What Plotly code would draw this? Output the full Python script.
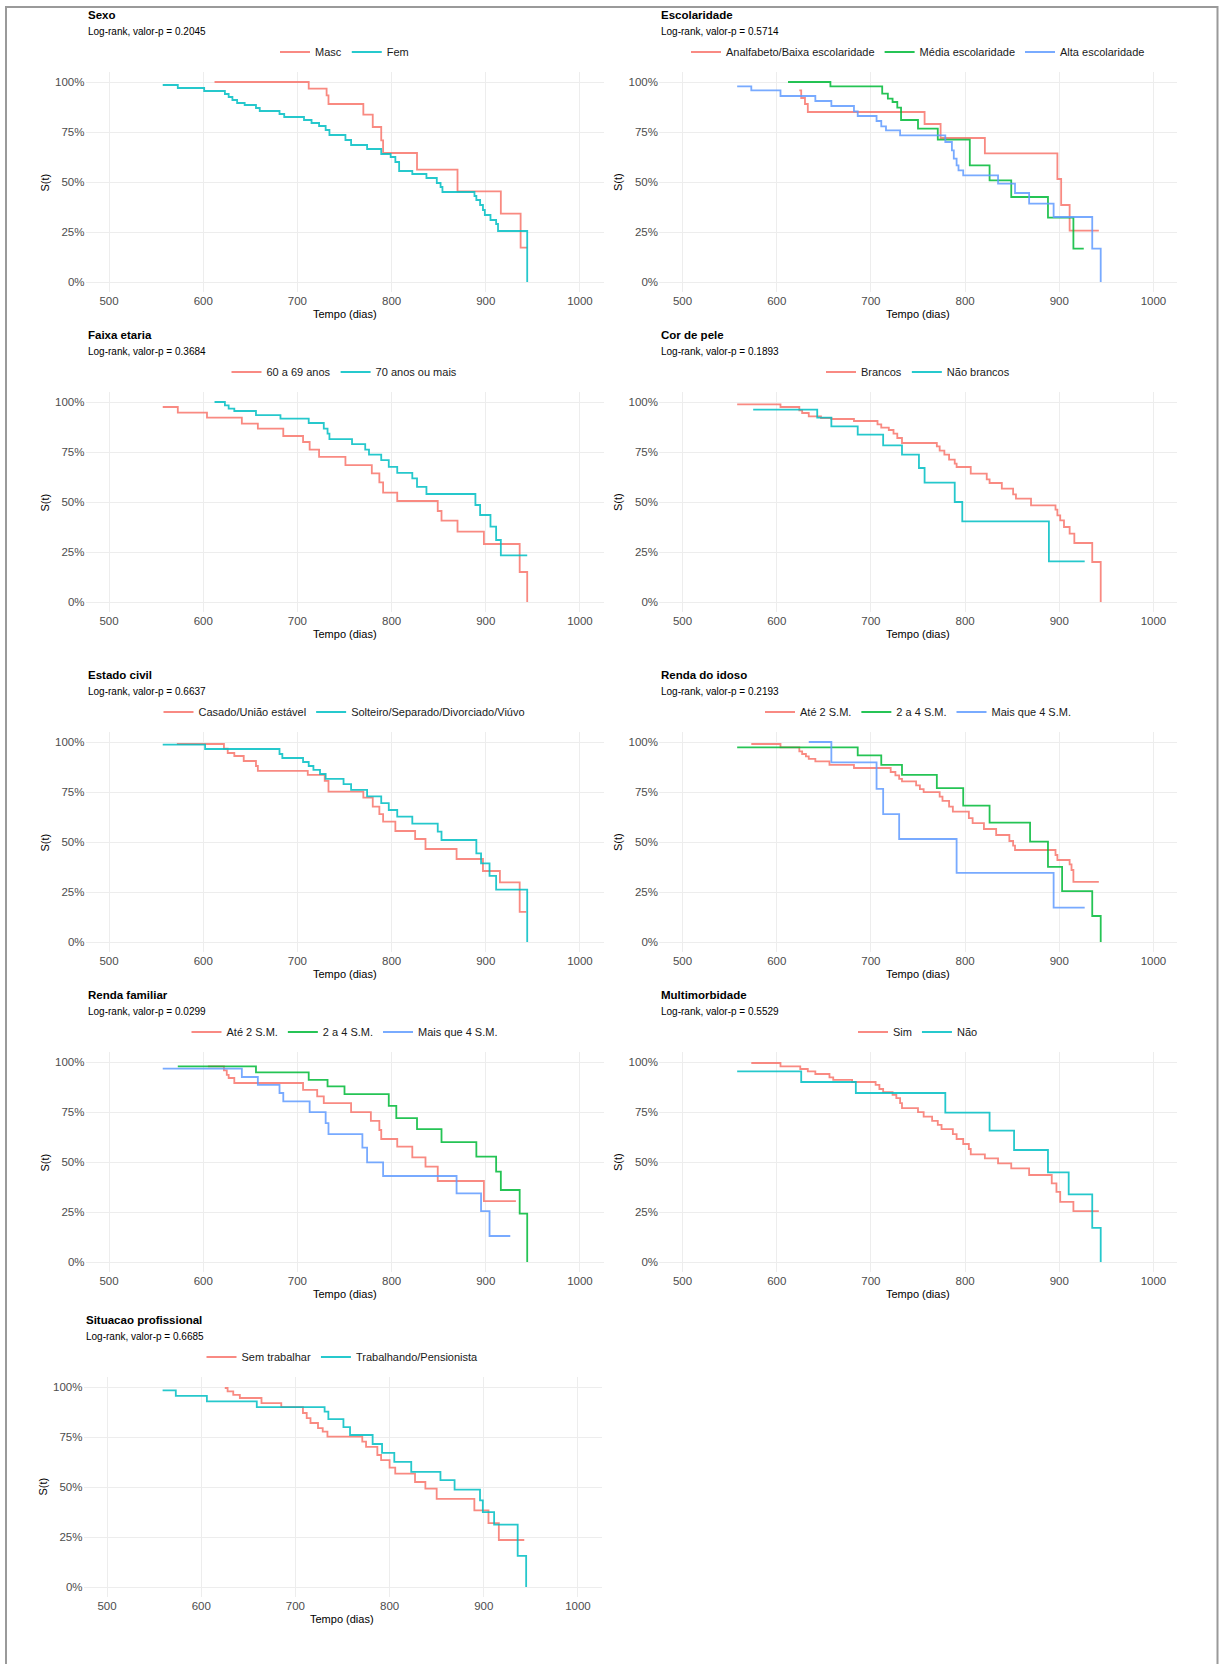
import plotly.graph_objects as go

W, H = 1219, 1664

# ---------------- data (Kaplan-Meier step curves: time in days, survival) ----------------
x_ticks = [500, 600, 700, 800, 900, 1000]
y_ticks = [0, 0.25, 0.5, 0.75, 1.0]
y_tick_labels = ["0%", "25%", "50%", "75%", "100%"]

# Sexo
masc_t = [612, 712, 731, 733, 770, 780, 789, 791, 827, 870, 916, 937, 944]
masc_s = [1.0, 0.967, 0.933, 0.89, 0.837, 0.775, 0.708, 0.645, 0.562, 0.453, 0.342, 0.172, 0.172]
fem_t = [557, 573, 601, 623, 627, 631, 636, 644, 656, 660, 681, 686, 707, 715, 723, 730, 734, 751, 757,
         774, 789, 799, 804, 808, 822, 837, 848, 852, 854, 888, 890, 894, 897, 899, 905, 911, 913, 944]
fem_s = [0.985, 0.97, 0.955, 0.94, 0.925, 0.91, 0.895, 0.885, 0.87, 0.855, 0.84, 0.825, 0.81, 0.795, 0.78,
         0.76, 0.735, 0.71, 0.685, 0.665, 0.64, 0.625, 0.60, 0.555, 0.54, 0.52, 0.495, 0.475, 0.45, 0.43,
         0.41, 0.385, 0.36, 0.335, 0.31, 0.29, 0.255, 0.0]

# Escolaridade
esc_baixa_t = [624, 626, 630, 633, 757, 774, 821, 898, 902, 911, 942]
esc_baixa_s = [0.958, 0.92, 0.89, 0.85, 0.79, 0.72, 0.643, 0.515, 0.385, 0.257, 0.257]
esc_media_t = [612, 657, 712, 718, 723, 728, 732, 750, 771, 805, 826, 849, 888, 915, 926]
esc_media_s = [1.0, 0.978, 0.942, 0.917, 0.9, 0.872, 0.81, 0.767, 0.712, 0.583, 0.508, 0.425, 0.322, 0.167, 0.167]
esc_alta_t = [558, 573, 604, 641, 658, 682, 686, 706, 711, 716, 731, 779, 786, 788, 791, 793, 798, 835, 853,
              868, 894, 935, 944]
esc_alta_s = [0.978, 0.958, 0.93, 0.905, 0.88, 0.853, 0.83, 0.805, 0.778, 0.758, 0.733, 0.7, 0.658, 0.617,
              0.583, 0.558, 0.533, 0.492, 0.445, 0.392, 0.325, 0.167, 0.0]

# Faixa etaria
fx60_t = [557, 573, 604, 641, 658, 685, 706, 713, 723, 751, 779, 787, 791, 806, 849, 853, 870, 898, 936, 944]
fx60_s = [0.975, 0.947, 0.922, 0.892, 0.867, 0.83, 0.8, 0.762, 0.726, 0.684, 0.643, 0.598, 0.547, 0.505,
          0.455, 0.407, 0.352, 0.29, 0.15, 0.0]
fx70_t = [612, 623, 627, 633, 656, 682, 712, 728, 732, 734, 758, 772, 776, 789, 797, 806, 822, 827, 837, 889,
          894, 905, 911, 916, 944]
fx70_s = [1.0, 0.983, 0.967, 0.955, 0.934, 0.917, 0.895, 0.867, 0.842, 0.814, 0.789, 0.762, 0.737, 0.709,
          0.676, 0.646, 0.618, 0.576, 0.54, 0.485, 0.435, 0.377, 0.31, 0.233, 0.233]

# Cor de pele
cor_br_t = [558, 604, 624, 627, 634, 647, 658, 682, 707, 711, 719, 724, 728, 733, 770, 773, 778, 783, 789, 791,
            806, 823, 826, 839, 851, 854, 870, 896, 898, 901, 905, 911, 916, 935, 944]
cor_br_s = [0.988, 0.975, 0.958, 0.945, 0.928, 0.92, 0.915, 0.905, 0.888, 0.872, 0.86, 0.842, 0.82, 0.795,
            0.778, 0.757, 0.737, 0.712, 0.692, 0.675, 0.642, 0.613, 0.595, 0.567, 0.538, 0.517, 0.483, 0.462,
            0.433, 0.408, 0.375, 0.342, 0.295, 0.2, 0.0]
cor_nb_t = [575, 643, 658, 686, 713, 733, 751, 757, 789, 797, 889, 927]
cor_nb_s = [0.962, 0.922, 0.878, 0.837, 0.783, 0.737, 0.67, 0.597, 0.5, 0.403, 0.203, 0.203]

# Estado civil
ec_cas_t = [572, 622, 626, 633, 643, 656, 658, 711, 729, 733, 770, 780, 787, 791, 804, 825, 836, 869, 897,
            915, 936, 943]
ec_cas_s = [0.99, 0.967, 0.945, 0.93, 0.905, 0.88, 0.856, 0.836, 0.806, 0.752, 0.722, 0.677, 0.639, 0.602,
            0.555, 0.515, 0.465, 0.415, 0.355, 0.298, 0.151, 0.151]
ec_sol_t = [557, 602, 681, 684, 706, 712, 717, 724, 730, 749, 757, 774, 789, 797, 806, 822, 849, 853, 890,
            895, 904, 911, 944]
ec_sol_s = [0.987, 0.965, 0.94, 0.92, 0.9, 0.88, 0.861, 0.84, 0.816, 0.789, 0.761, 0.728, 0.694, 0.66, 0.627,
            0.592, 0.552, 0.51, 0.443, 0.393, 0.331, 0.262, 0.0]

# Renda do idoso
ri_ate2_t = [573, 604, 624, 627, 631, 634, 641, 656, 682, 721, 726, 730, 733, 748, 752, 756, 773, 776, 783,
             787, 804, 808, 820, 833, 847, 851, 853, 896, 898, 911, 913, 915, 942]
ri_ate2_s = [0.99, 0.973, 0.953, 0.94, 0.928, 0.916, 0.903, 0.886, 0.87, 0.85, 0.833, 0.816, 0.803, 0.783,
             0.764, 0.749, 0.727, 0.706, 0.677, 0.652, 0.619, 0.594, 0.565, 0.535, 0.505, 0.482, 0.46, 0.435,
             0.41, 0.388, 0.36, 0.301, 0.301]
ri_2a4_t = [558, 686, 711, 733, 770, 798, 826, 869, 888, 903, 935, 944]
ri_2a4_s = [0.973, 0.933, 0.886, 0.836, 0.769, 0.682, 0.597, 0.502, 0.376, 0.254, 0.13, 0.0]
ri_4_t = [634, 658, 706, 713, 730, 791, 894, 927]
ri_4_s = [1.0, 0.898, 0.766, 0.639, 0.515, 0.346, 0.172, 0.172]

# Renda familiar
rf_ate2_t = [605, 622, 625, 627, 633, 706, 721, 728, 757, 778, 787, 789, 806, 822, 836, 849, 898, 932]
rf_ate2_s = [0.978, 0.958, 0.936, 0.92, 0.895, 0.861, 0.828, 0.794, 0.749, 0.706, 0.66, 0.615, 0.577, 0.523,
             0.477, 0.405, 0.304, 0.304]
rf_2a4_t = [573, 656, 712, 732, 750, 797, 805, 827, 853, 890, 911, 916, 936, 944]
rf_2a4_s = [0.978, 0.948, 0.911, 0.878, 0.839, 0.781, 0.719, 0.664, 0.599, 0.527, 0.452, 0.36, 0.242, 0.0]
rf_4_t = [557, 641, 658, 681, 685, 713, 730, 733, 769, 774, 791, 869, 895, 904, 926]
rf_4_s = [0.967, 0.925, 0.886, 0.845, 0.803, 0.749, 0.694, 0.639, 0.572, 0.498, 0.43, 0.343, 0.254, 0.13, 0.13]

# Multimorbidade
mm_sim_t = [573, 604, 625, 633, 641, 656, 660, 680, 705, 709, 713, 723, 727, 731, 733, 750, 756, 765, 771, 775,
            787, 791, 798, 804, 806, 821, 835, 849, 868, 892, 897, 901, 915, 942]
mm_sim_s = [0.995, 0.978, 0.965, 0.953, 0.94, 0.923, 0.911, 0.9, 0.886, 0.865, 0.849, 0.836, 0.819, 0.794,
            0.769, 0.749, 0.727, 0.706, 0.686, 0.664, 0.639, 0.615, 0.59, 0.565, 0.538, 0.518, 0.493, 0.468,
            0.435, 0.393, 0.351, 0.301, 0.254, 0.254]
mm_nao_t = [558, 626, 684, 779, 826, 852, 888, 910, 935, 944]
mm_nao_s = [0.953, 0.9, 0.845, 0.747, 0.657, 0.56, 0.448, 0.338, 0.171, 0.0]

# Situacao profissional
sp_sem_t = [625, 628, 634, 641, 664, 685, 708, 712, 716, 724, 729, 734, 771, 775, 787, 791, 800, 806, 827, 838,
            850, 890, 905, 916, 943]
sp_sem_s = [0.995, 0.978, 0.961, 0.945, 0.919, 0.899, 0.87, 0.844, 0.82, 0.794, 0.777, 0.752, 0.727, 0.701,
            0.66, 0.634, 0.597, 0.567, 0.525, 0.492, 0.441, 0.383, 0.319, 0.235, 0.235]
sp_trab_t = [559, 573, 606, 659, 731, 735, 751, 758, 782, 792, 805, 823, 854, 869, 896, 899, 911, 936, 945]
sp_trab_s = [0.983, 0.956, 0.928, 0.899, 0.877, 0.839, 0.799, 0.76, 0.715, 0.671, 0.626, 0.576, 0.534, 0.487,
             0.433, 0.374, 0.312, 0.156, 0.0]

titles = ["Sexo", "Escolaridade", "Faixa etaria", "Cor de pele", "Estado civil", "Renda do idoso",
          "Renda familiar", "Multimorbidade", "Situacao profissional"]
pvalues = ["0.2045", "0.5714", "0.3684", "0.1893", "0.6637", "0.2193", "0.0299", "0.5529", "0.6685"]
groups = [
    [("Masc", masc_t, masc_s), ("Fem", fem_t, fem_s)],
    [("Analfabeto/Baixa escolaridade", esc_baixa_t, esc_baixa_s),
     ("Média escolaridade", esc_media_t, esc_media_s),
     ("Alta escolaridade", esc_alta_t, esc_alta_s)],
    [("60 a 69 anos", fx60_t, fx60_s), ("70 anos ou mais", fx70_t, fx70_s)],
    [("Brancos", cor_br_t, cor_br_s), ("Não brancos", cor_nb_t, cor_nb_s)],
    [("Casado/União estável", ec_cas_t, ec_cas_s), ("Solteiro/Separado/Divorciado/Viúvo", ec_sol_t, ec_sol_s)],
    [("Até 2 S.M.", ri_ate2_t, ri_ate2_s), ("2 a 4 S.M.", ri_2a4_t, ri_2a4_s), ("Mais que 4 S.M.", ri_4_t, ri_4_s)],
    [("Até 2 S.M.", rf_ate2_t, rf_ate2_s), ("2 a 4 S.M.", rf_2a4_t, rf_2a4_s), ("Mais que 4 S.M.", rf_4_t, rf_4_s)],
    [("Sim", mm_sim_t, mm_sim_s), ("Não", mm_nao_t, mm_nao_s)],
    [("Sem trabalhar", sp_sem_t, sp_sem_s), ("Trabalhando/Pensionista", sp_trab_t, sp_trab_s)],
]

# ---------------- styling / layout ----------------
PAL2 = ["#F8766D", "#00BFC4"]
PAL3 = ["#F8766D", "#00BA38", "#619CFF"]
FONT = "Liberation Sans, Arial, sans-serif"

col_px = [(85.5, 603.5), (659, 1177)]
row_top100 = [82, 402, 742, 1062, 1387]   # pixel y of the 100% gridline per row
row_shift = [0, 0, 0, 0, -2]              # small horizontal offset of the last row


def fx(px):
    return px / W


def fy(py):
    return 1 - py / H


fig = go.Figure()
layout = dict(
    width=W, height=H, margin=dict(l=0, r=0, t=0, b=0),
    paper_bgcolor="white", plot_bgcolor="white",
    font=dict(family=FONT, size=11, color="#000000"),
    annotations=[], shapes=[],
)

for i, (title, pv, grp) in enumerate(zip(titles, pvalues, groups)):
    col, row = i % 2, i // 2
    x0, x1 = col_px[col]
    if col == 0:
        x0 += row_shift[row]
        x1 += row_shift[row]
    top = row_top100[row]
    k = "" if i == 0 else str(i + 1)
    leg = "legend" + k
    pal = PAL2 if len(grp) == 2 else PAL3
    for (name, t, s), c in zip(grp, pal):
        fig.add_trace(go.Scatter(
            x=t, y=s, mode="lines", name=name, line=dict(color=c, width=1.8, shape="hv"),
            opacity=0.85, xaxis="x" + k, yaxis="y" + k, legend=leg, showlegend=True,
        ))
    layout["xaxis" + k] = dict(
        domain=[fx(x0), fx(x1)], anchor="y" + k, range=[475, 1025],
        tickvals=x_ticks, ticktext=[str(v) for v in x_ticks],
        showgrid=True, gridcolor="#EDEDED", gridwidth=1, zeroline=False, showline=False,
        ticks="", tickfont=dict(size=11.5, color="#4D4D4D"),
    )
    layout["yaxis" + k] = dict(
        domain=[fy(top + 210), fy(top - 10)], anchor="x" + k, range=[-0.05, 1.05],
        tickvals=y_ticks, ticktext=y_tick_labels,
        showgrid=True, gridcolor="#EDEDED", gridwidth=1, zeroline=False, showline=False,
        ticks="", tickfont=dict(size=11.5, color="#4D4D4D"),
    )
    layout[leg] = dict(
        x=fx((x0 + x1) / 2), y=fy(top - 30), xanchor="center", yanchor="middle",
        orientation="h", font=dict(size=11, color="#1A1A1A"), bgcolor="rgba(0,0,0,0)",
        itemwidth=30, tracegroupgap=0,
    )
    ann = layout["annotations"]
    ann.append(dict(text="<b>" + title + "</b>", x=fx(x0), y=fy(top - 67), xref="paper", yref="paper",
                    xanchor="left", yanchor="middle", showarrow=False, font=dict(size=11.5, color="#000")))
    ann.append(dict(text="Log-rank, valor-p = " + pv, x=fx(x0), y=fy(top - 51), xref="paper", yref="paper",
                    xanchor="left", yanchor="middle", showarrow=False, font=dict(size=10, color="#000")))
    ann.append(dict(text="S(t)", x=fx(x0 - 41), y=fy(top + 100), xref="paper", yref="paper",
                    xanchor="center", yanchor="middle", textangle=-90, showarrow=False,
                    font=dict(size=11, color="#000")))
    ann.append(dict(text="Tempo (dias)", x=fx((x0 + x1) / 2), y=fy(top + 232), xref="paper", yref="paper",
                    xanchor="center", yanchor="middle", showarrow=False, font=dict(size=11, color="#000")))

# outer frame of the image
layout["shapes"].append(dict(type="rect", xref="paper", yref="paper",
                             x0=fx(6), x1=fx(1217.5), y0=-0.02, y1=fy(7),
                             line=dict(color="#9A9A9A", width=2), fillcolor="rgba(0,0,0,0)"))

fig.update_layout(**layout)
fig.write_html("out.html", config={"displayModeBar": False},
               post_script="document.body.style.margin='0px';document.body.style.overflow='hidden';")
